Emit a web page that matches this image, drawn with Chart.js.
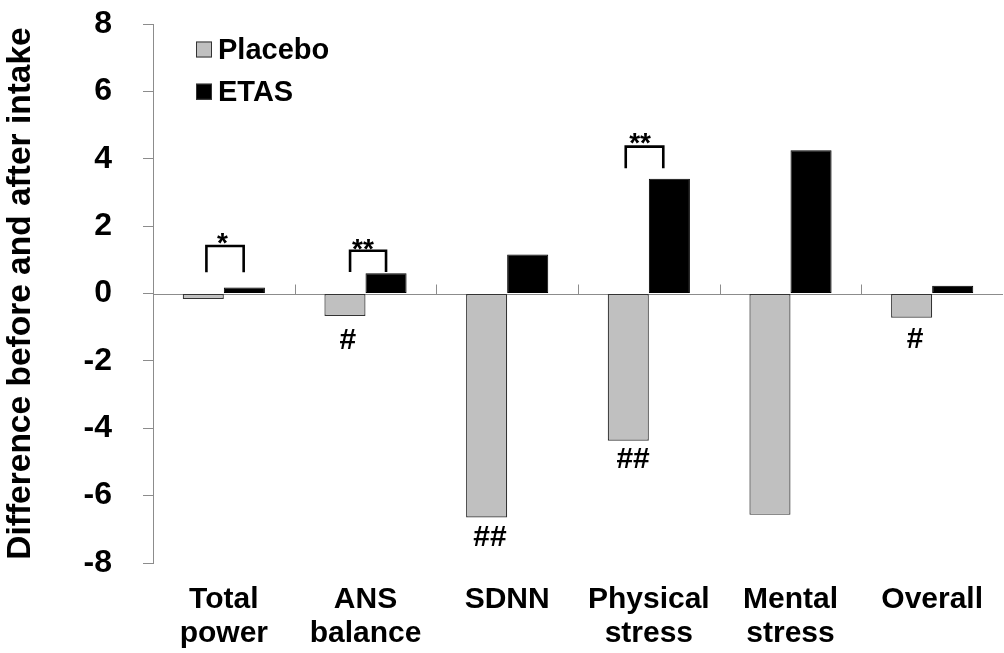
<!DOCTYPE html>
<html>
<head>
<meta charset="utf-8">
<script src="https://cdn.jsdelivr.net/npm/chart.js@4.4.1/dist/chart.umd.min.js"></script>
<style>
  html, body { margin: 0; padding: 0; background: #ffffff; }
  #wrap { width: 1004px; height: 653px; position: relative; }
</style>
</head>
<body>
<div id="wrap"><canvas id="c" width="1004" height="653"></canvas></div>
<script>
// ---- data ----
const categories = [['Total', 'power'], ['ANS', 'balance'], ['SDNN'], ['Physical', 'stress'], ['Mental', 'stress'], ['Overall']];
const placeboValues = [-0.16, -0.67, -6.65, -4.37, -6.57, -0.72];
const etasValues = [0.18, 0.60, 1.16, 3.41, 4.25, 0.23];
const yTickValues = [-8, -6, -4, -2, 0, 2, 4, 6, 8];
const seriesNames = ['Placebo', 'ETAS'];
const yTitle = 'Difference before and after intake';

// significance brackets (between groups)
const bracketCategories = [0, 1, 3];
const bracketTopValues = [1.41, 1.27, 4.36];
const bracketFootValues = [0.63, 0.64, 3.72];
const bracketMarks = ['*', '**', '**'];
const bracketMarkValues = [1.71, 1.54, 4.68];

// significance vs baseline marks
const hashCategories = [1, 2, 3, 5];
const hashMarks = ['#', '##', '##', '#'];
const hashValues = [-1.41, -7.24, -4.94, -1.38];

// ---- layout / style (offsets in category-width units) ----
const bracketLegOffsets = [[-0.123, 0.14], [-0.109, 0.145], [-0.163, 0.102]];
const bracketMarkOffsets = [-0.01, -0.018, -0.062];
const hashOffsets = [-0.124, -0.121, -0.111, -0.121];

const FONT = '"Liberation Sans", Arial, sans-serif';
const AXIS_GRAY = '#8c8c8c';
const PLACEBO_FILL = '#c0c0c0';

const annotationPlugin = {
  id: 'annotations',
  beforeDatasetsDraw(chart) {
    const ctx = chart.ctx;
    const x = chart.scales.x, y = chart.scales.y;
    const area = chart.chartArea;
    const y0 = Math.round(y.getPixelForValue(0)) + 0.5;
    ctx.save();
    ctx.strokeStyle = AXIS_GRAY;
    ctx.lineWidth = 1;
    ctx.beginPath();
    ctx.moveTo(area.left, y0);
    ctx.lineTo(area.right, y0);
    const cw = (area.right - area.left) / categories.length;
    for (let i = 1; i < categories.length; i++) {
      const bx = Math.round(x.getPixelForValue(i) - cw / 2) + 0.5;
      ctx.moveTo(bx, y0);
      ctx.lineTo(bx, y0 - 10);
    }
    ctx.stroke();
    ctx.restore();
  },
  afterDatasetsDraw(chart) {
    const ctx = chart.ctx;
    const x = chart.scales.x, y = chart.scales.y;
    const area = chart.chartArea;
    const cw = (area.right - area.left) / categories.length;
    ctx.save();
    // brackets
    ctx.strokeStyle = '#000';
    ctx.lineWidth = 2.6;
    ctx.lineJoin = 'miter';
    bracketCategories.forEach((c, k) => {
      const cx = x.getPixelForValue(c);
      const xl = cx + bracketLegOffsets[k][0] * cw;
      const xr = cx + bracketLegOffsets[k][1] * cw;
      const yt = y.getPixelForValue(bracketTopValues[k]);
      const yf = y.getPixelForValue(bracketFootValues[k]);
      ctx.beginPath();
      ctx.moveTo(xl, yf);
      ctx.lineTo(xl, yt);
      ctx.lineTo(xr, yt);
      ctx.lineTo(xr, yf);
      ctx.stroke();
      const fs = 28;
      ctx.font = 'bold ' + fs + 'px ' + FONT;
      ctx.fillStyle = '#000';
      ctx.textAlign = 'center';
      ctx.textBaseline = 'alphabetic';
      ctx.fillText(bracketMarks[k], cx + bracketMarkOffsets[k] * cw, y.getPixelForValue(bracketMarkValues[k]) + 0.575 * fs);
    });
    // hashes
    hashCategories.forEach((c, k) => {
      const cx = x.getPixelForValue(c) + hashOffsets[k] * cw;
      ctx.font = 'bold 30px ' + FONT;
      ctx.fillStyle = '#000';
      ctx.textAlign = 'center';
      ctx.textBaseline = 'middle';
      ctx.fillText(hashMarks[k], cx, y.getPixelForValue(hashValues[k]));
    });
    // legend
    const legendColors = [PLACEBO_FILL, '#000000'];
    const legendY = [49.5, 91.7];
    seriesNames.forEach((name, k) => {
      const by = legendY[k];
      ctx.fillStyle = legendColors[k];
      ctx.fillRect(196, by - 8, 16, 16);
      ctx.strokeStyle = '#333';
      ctx.lineWidth = 1;
      ctx.strokeRect(196.5, by - 7.5, 15, 15);
      ctx.fillStyle = '#000';
      ctx.font = 'bold 29px ' + FONT;
      ctx.textAlign = 'left';
      ctx.textBaseline = 'middle';
      ctx.fillText(name, 218, by + 1);
    });
    ctx.restore();
  }
};

new Chart(document.getElementById('c'), {
  type: 'bar',
  data: {
    labels: categories,
    datasets: [
      { label: seriesNames[0], data: placeboValues, backgroundColor: PLACEBO_FILL, borderColor: '#333333', borderWidth: 1.2, borderSkipped: false },
      { label: seriesNames[1], data: etasValues, backgroundColor: '#000000', borderColor: '#000000', borderWidth: 1, borderSkipped: false }
    ]
  },
  options: {
    responsive: false,
    animation: false,
    devicePixelRatio: 1,
    layout: { autoPadding: false, padding: { top: 24, right: 1, bottom: 0, left: 0 } },
    datasets: { bar: { categoryPercentage: 0.58, barPercentage: 1.0 } },
    plugins: { legend: { display: false }, tooltip: { enabled: false }, title: { display: false } },
    scales: {
      x: {
        grid: { display: false, drawTicks: false },
        border: { display: false },
        ticks: {
          color: '#000',
          font: { family: FONT, size: 30, weight: 'bold', lineHeight: 1.12 },
          padding: 20,
          maxRotation: 0,
          autoSkip: false
        },
        afterFit(scale) { scale.height = 90; scale.paddingTop = 0; scale.paddingBottom = 0; }
      },
      y: {
        min: -8, max: 8,
        afterBuildTicks(scale) { scale.ticks = yTickValues.map(v => ({ value: v })); },
        grid: { drawOnChartArea: false, drawTicks: true, tickLength: 10, color: AXIS_GRAY },
        border: { display: true, color: AXIS_GRAY, width: 1 },
        ticks: {
          color: '#000',
          font: { family: FONT, size: 32, weight: 'bold' },
          padding: 31
        },
        title: {
          display: true,
          text: yTitle,
          color: '#000',
          font: { family: FONT, size: 33.5, weight: 'bold', lineHeight: 1.2 },
          padding: { top: 1, bottom: 0 }
        },
        afterFit(scale) { scale.width = 153; scale.paddingTop = 0; scale.paddingBottom = 0; }
      }
    }
  },
  plugins: [annotationPlugin]
});
</script>
</body>
</html>
